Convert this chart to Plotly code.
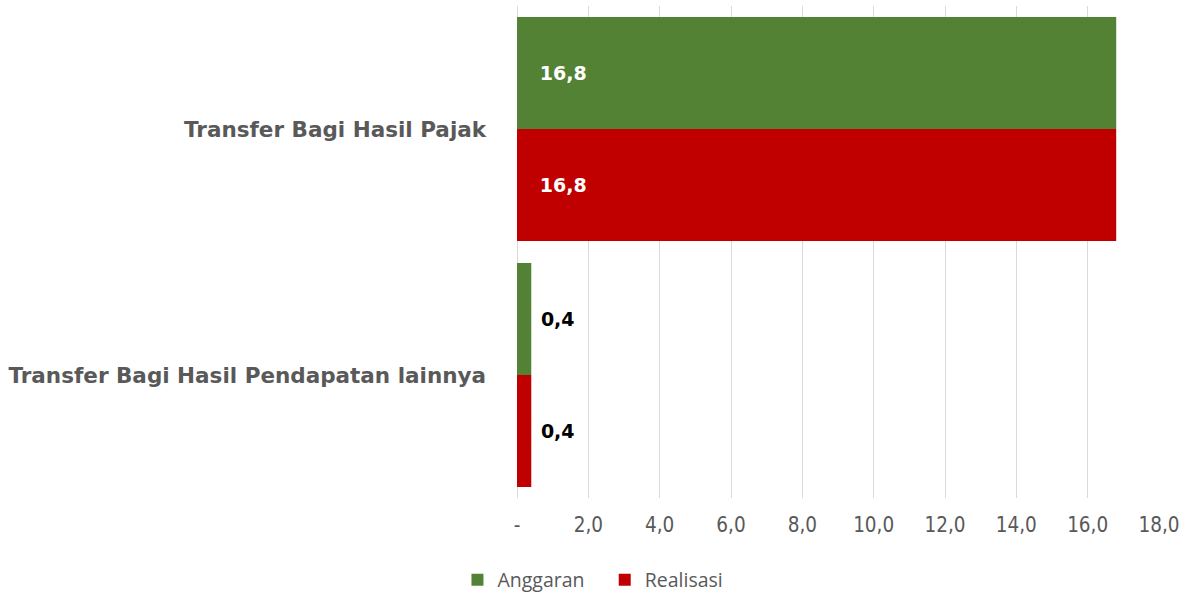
import plotly.graph_objects as go

categories = ['Transfer Bagi Hasil Pajak', 'Transfer Bagi Hasil Pendapatan lainnya']
anggaran = [16.8, 0.4]
realisasi = [16.8, 0.4]
tick_vals = [0, 2, 4, 6, 8, 10, 12, 14, 16, 18]
tick_text = ['-', '2,0', '4,0', '6,0', '8,0', '10,0', '12,0', '14,0', '16,0', '18,0']

GREEN = '#548235'
RED = '#C00000'
GRAY = '#595959'
NB = '\u00a0'


def fmt(v):
    return f"{v:.1f}".replace('.', ',')


def labels(vals):
    # big bars: label inside at start (white), small bars: outside (black)
    text, pos = [], []
    for v in vals:
        if v > 2:
            text.append(NB * 3 + fmt(v))
            pos.append('inside')
        else:
            text.append(NB + fmt(v))
            pos.append('outside')
    return text, pos


fig = go.Figure()
for name, vals, color in [('Anggaran', anggaran, GREEN), ('Realisasi', realisasi, RED)]:
    t, p = labels(vals)
    fig.add_trace(go.Bar(
        y=categories, x=vals, name=name + NB * 3, orientation='h',
        marker=dict(color=color, line=dict(width=0)),
        text=t, textposition=p, insidetextanchor='start',
        outsidetextfont=dict(family='DejaVu Sans', size=19, color='black', weight='bold'),
        insidetextfont=dict(family='DejaVu Sans', size=19, color='white', weight='bold'),
        hoverinfo='skip',
    ))

fig.update_layout(
    width=1185, height=592,
    barmode='group', bargap=0.09, bargroupgap=0,
    plot_bgcolor='white', paper_bgcolor='white',
    margin=dict(l=517, r=26, t=6, b=94, autoexpand=False),
    showlegend=True,
    legend=dict(orientation='h', x=0.13, xanchor='center', y=-0.167, yanchor='middle',
                font=dict(family='Open Sans', size=19.5, color=GRAY), traceorder='normal'),
)
fig.update_xaxes(
    range=[0, 18], tickvals=tick_vals, ticktext=tick_text, tickangle=0,
    showgrid=True, gridcolor='#D9D9D9', gridwidth=1,
    zeroline=True, zerolinecolor='#D9D9D9', zerolinewidth=1,
    showline=False, ticks='', ticklabelstandoff=12,
    tickfont=dict(family='DejaVu Sans Condensed, Liberation Sans Narrow, Liberation Sans', size=20.5, color=GRAY),
)
fig.update_yaxes(
    autorange='reversed', showgrid=False, showline=False, ticks='',
    ticksuffix=NB * 4,
    tickfont=dict(family='DejaVu Sans', size=21.5, color=GRAY, weight='bold'),
)

fig.write_html("out.html", config={'displayModeBar': False},
               post_script="document.body.style.margin='0';")
